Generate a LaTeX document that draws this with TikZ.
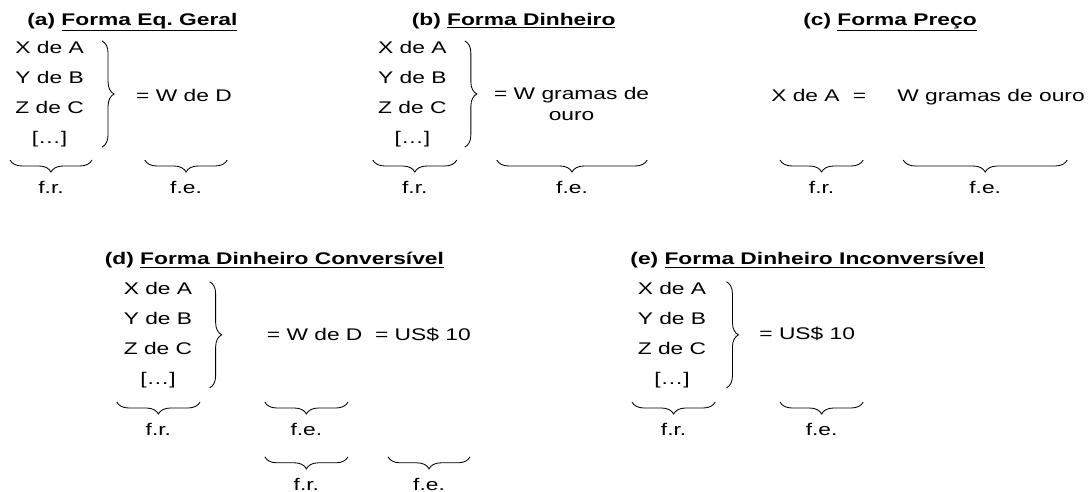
\documentclass[tikz,border=0pt]{standalone}
\usepackage{fontspec}
\setmainfont[FakeStretch=1.35]{Liberation Sans}
\usetikzlibrary{positioning,decorations.pathreplacing}
\frenchspacing

\begin{document}
\begin{tikzpicture}[
  ttl/.style={anchor=base, font=\bfseries\fontsize{12}{14}\selectfont},
  lst/.style={align=center, inner sep=0pt, font=\fontsize{12}{21.3}\selectfont},
  txt/.style={align=center, font=\fontsize{12}{15.6}\selectfont},
  lbl/.style={below=0.4cm, font=\fontsize{12}{14}\selectfont},
  rbrace/.style={decorate, decoration={brace, amplitude=0.3cm}, line width=0.6pt},
  ubrace/.style={decorate, decoration={brace, mirror, amplitude=0.3cm}, line width=0.6pt}
]
\useasboundingbox (0,0) rectangle (27.25,-12.3);

% (a) forma equivalente geral
\node[ttl] (ta) at (3.31,-0.63) {(a) \underline{Forma Eq. Geral}};
\node[lst] (la) at (1.24,-2.35) {X de A\\Y de B\\Z de C\\{[…]}};
\draw[rbrace] ([xshift=0.45cm]la.north east) -- ([xshift=0.45cm]la.south east);
\node[txt] (ea) at (4.6,-2.38) {= W de D};
\draw[ubrace] (0.25,-4.0) -- node[lbl] (fra) {f.r.} (2.3,-4.0);
\draw[ubrace] (3.62,-4.0) -- node[lbl] (fea) {f.e.} (5.68,-4.0);

% (b) forma dinheiro
\node[ttl] (tb) at (12.84,-0.63) {(b) \underline{Forma Dinheiro}};
\node[lst] (lb) at (10.31,-2.35) {X de A\\Y de B\\Z de C\\{[…]}};
\draw[rbrace] ([xshift=0.45cm]lb.north east) -- ([xshift=0.45cm]lb.south east);
\node[txt] (eb) at (14.29,-2.6) {= W gramas de\\ouro};
\draw[ubrace] (9.32,-4.0) -- node[lbl] (frb) {f.r.} (11.42,-4.0);
\draw[ubrace] (12.42,-4.0) -- node[lbl] (feb) {f.e.} (16.18,-4.0);

% (c) forma preco
\node[ttl] (tc) at (22.25,-0.63) {(c) \underline{Forma Preço}};
\node[txt] (ec) at (23.2,-2.42) {X de A\hspace{0.33cm}=\hspace{0.78cm}W gramas de ouro};
\draw[ubrace] (19.5,-4.0) -- node[lbl] (frc) {f.r.} (21.58,-4.0);
\draw[ubrace] (22.58,-4.0) -- node[lbl] (fec) {f.e.} (26.68,-4.0);

% (d) forma dinheiro conversivel
\node[ttl] (td) at (6.86,-6.62) {(d) \underline{Forma Dinheiro Conversível}};
\node[lst] (ld) at (3.95,-8.37) {X de A\\Y de B\\Z de C\\{[…]}};
\draw[rbrace] ([xshift=0.43cm]ld.north east) -- ([xshift=0.43cm]ld.south east);
\node[txt] (ed) at (9.22,-8.38) {= W de D~~= US\$ 10};
\draw[ubrace] (2.92,-10.05) -- node[lbl] (frd) {f.r.} (5.0,-10.05);
\draw[ubrace] (6.62,-10.05) -- node[lbl] (fed) {f.e.} (8.7,-10.05);
\draw[ubrace] (6.62,-11.42) -- node[lbl] (frd2) {f.r.} (8.7,-11.42);
\draw[ubrace] (9.7,-11.42) -- node[lbl] (fed2) {f.e.} (11.75,-11.42);

% (e) forma dinheiro inconversivel
\node[ttl] (te) at (20.19,-6.62) {(e) \underline{Forma Dinheiro Inconversível}};
\node[lst] (le) at (16.8,-8.37) {X de A\\Y de B\\Z de C\\{[…]}};
\draw[rbrace] ([xshift=0.5cm]le.north east) -- ([xshift=0.5cm]le.south east);
\node[txt] (ee) at (20.18,-8.35) {= US\$ 10};
\draw[ubrace] (15.8,-10.05) -- node[lbl] (fre) {f.r.} (17.88,-10.05);
\draw[ubrace] (19.5,-10.05) -- node[lbl] (fee) {f.e.} (21.58,-10.05);
\end{tikzpicture}
\end{document}
